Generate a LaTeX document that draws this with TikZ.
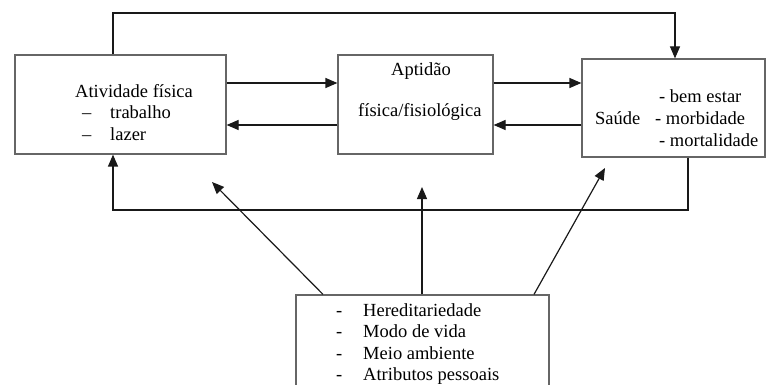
\documentclass[tikz,border=0pt]{standalone}
\usepackage{fontspec}
\setmainfont{Liberation Serif}
\usetikzlibrary{arrows.meta}

\tikzset{
  caixa/.style={draw=black!60, line width=1.2pt, inner sep=0pt},
  texto/.style={inner sep=0pt, anchor=base west, font=\fontsize{18.5}{21}\selectfont},
  seta/.style={draw=black!90, line width=1.2pt, -{Triangle[length=12pt,width=10pt]}},
}

\begin{document}
\begin{tikzpicture}[x=1pt,y=-1pt]
    \path[use as bounding box, clip] (0,0) rectangle (766,385);
    % BOXES
    \node[caixa, minimum width=211pt, minimum height=99pt] (atividade) at (120.5,104.5) {};
    \node[caixa, minimum width=155pt, minimum height=99pt] (aptidao) at (415.5,104.5) {};
    \node[caixa, minimum width=183pt, minimum height=98pt] (saude) at (673.5,108) {};
    \node[caixa, minimum width=253pt, minimum height=120pt] (fatores) at (422.5,355) {};
    % TEXTS
    % atividade fisica
    \node[texto] (ativ) at (75,98) {Atividade física};
    \node[texto] (ativA) at (82,119) {–};
    \node[texto] (ativB) at (110,119) {trabalho};
    \node[texto] (ativC) at (82,141) {–};
    \node[texto] (ativD) at (110,141) {lazer};
    % aptidao
    \node[texto] (apt) at (391,76) {Aptidão};
    \node[texto] (aptB) at (358,117) {física/fisiológica};
    % saude
    \node[texto] (sau) at (595,125) {Saúde};
    \node[texto] (sauA) at (659,103) {- bem estar};
    \node[texto] (sauB) at (655,125) {- morbidade};
    \node[texto] (sauC) at (659,147) {- mortalidade};
    % fatores
    \node[texto] (fatA) at (336,316) {-};
    \node[texto] (fatB) at (363,316) {Hereditariedade};
    \node[texto] (fatC) at (336,337.5) {-};
    \node[texto] (fatD) at (363,337.5) {Modo de vida};
    \node[texto] (fatE) at (336,359) {-};
    \node[texto] (fatF) at (363,359) {Meio ambiente};
    \node[texto] (fatG) at (336,380) {-};
    \node[texto] (fatH) at (363,380) {Atributos pessoais};
    % CONNECTORS
    % between the boxes
    \draw[seta] (atividade.east |- 0,83) -- (aptidao.west |- 0,83);
    \draw[seta] (aptidao.west |- 0,125) -- (atividade.east |- 0,125);
    \draw[seta] (aptidao.east |- 0,83) -- (saude.west |- 0,83);
    \draw[seta] (saude.west |- 0,125) -- (aptidao.east |- 0,125);
    % top and bottom loops
    \coordinate (topo) at (675,13);
    \coordinate (baixo) at (113,210);
    \draw[seta] (113,0 |- atividade.north) |- (topo) -- (topo |- saude.north);
    \draw[seta] (688,0 |- saude.south) |- (baixo) -- (baixo |- atividade.south);
    % from the factors
    \coordinate (alvoA) at (212,182);
    \coordinate (alvoB) at (422,187);
    \coordinate (alvoC) at (605,168);
    \draw[seta] (323,0 |- fatores.north) -- (alvoA);
    \draw[seta] (alvoB |- fatores.north) -- (alvoB);
    \draw[seta] (534,0 |- fatores.north) -- (alvoC);
\end{tikzpicture}
\end{document}
